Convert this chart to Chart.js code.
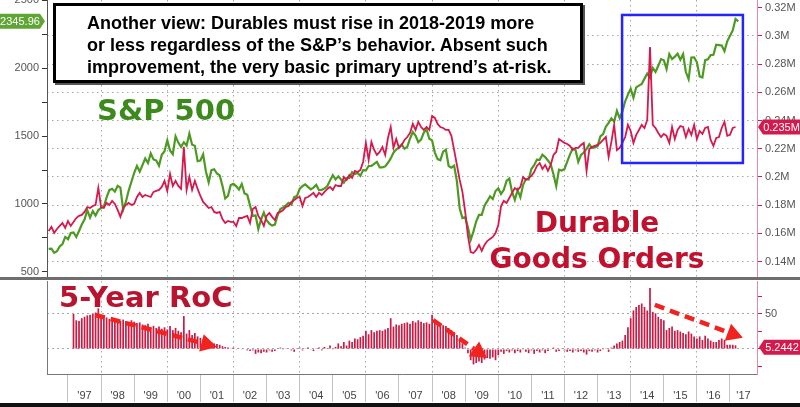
<!DOCTYPE html>
<html lang="en">
<head>
<meta charset="utf-8">
<title>Durable Goods Orders vs S&amp;P 500</title>
<script src="https://cdn.jsdelivr.net/npm/chart.js@4.4.1/dist/chart.umd.min.js"></script>
<style>
  html, body { margin: 0; padding: 0; background: #fff; }
  #wrap { position: relative; width: 800px; height: 407px; overflow: hidden; background: #fff; }
  #topChart { position: absolute; left: 0; top: 0; }
  #botChart { position: absolute; left: 0; top: 279px; }
  .rule { position: absolute; left: 0; width: 800px; }
  #note {
    position: absolute; left: 53px; top: 3px; width: 530px; height: 80px;
    box-sizing: border-box; border: 3px solid #000; background: #fff;
    box-shadow: 2px 2px 0 #555;
    padding: 6px 0 0 31px;
    font: bold 18px "Liberation Sans", Arial, sans-serif; line-height: 22px;
    color: #000; white-space: nowrap;
  }
  .big { position: absolute; font-family: "DejaVu Sans", sans-serif; font-weight: bold; white-space: nowrap; }
  #spLabel { left: 97px; top: 96px; font-size: 29px; line-height: 29px; color: #3c8a1b; }
  #dgLabel { left: 470px; top: 205px; width: 254px; text-align: center; font-size: 28px; line-height: 36px; color: #c0112f; }
  #rocLabel { left: 59px; top: 283px; font-size: 29px; line-height: 29px; color: #b8142f; }
</style>
</head>
<body>
<div id="wrap">
  <canvas id="topChart" width="800" height="277"></canvas>
  <canvas id="botChart" width="800" height="128"></canvas>
  <div class="rule" style="top:277px;height:3px;background:#6e6e6e"></div>
  <div class="rule" style="top:403px;height:4px;background:#111"></div>
  <div id="note">Another view: Durables must rise in 2018-2019 more<br>or less regardless of the S&amp;P’s behavior. Absent such<br>improvement, the very basic primary uptrend’s at-risk.</div>
  <div class="big" id="spLabel">S&amp;P 500</div>
  <div class="big" id="dgLabel">Durable<br>Goods Orders</div>
  <div class="big" id="rocLabel">5-Year RoC</div>
</div>
<script>
// Months are plotted at month end, first point is end of May 1996
const startMonth = 1996 + 5 / 12;

// S&P 500 monthly close, May 1996 .. Feb 2017, then last print in Mar 2017
const sp500 = [
  669.1, 670.6, 639.9, 651.9, 687.3, 705.3, 757.0, 740.7,
  786.2, 790.8, 757.1, 801.3, 848.3, 885.1, 954.3, 899.5, 947.3, 914.6, 955.4, 970.4,
  980.3, 1049.3, 1101.8, 1111.8, 1090.8, 1133.8, 1120.7, 957.3, 1017.0, 1098.7, 1163.6, 1229.2,
  1279.6, 1238.3, 1286.4, 1335.2, 1301.8, 1372.7, 1328.7, 1320.4, 1282.7, 1362.9, 1389.0, 1469.3,
  1394.5, 1366.4, 1498.6, 1452.4, 1420.6, 1454.6, 1430.8, 1517.7, 1436.5, 1429.4, 1315.0, 1320.3,
  1366.0, 1239.9, 1160.3, 1249.5, 1256.0, 1224.4, 1211.2, 1133.6, 1040.9, 1059.8, 1139.5, 1148.1,
  1130.2, 1106.7, 1147.4, 1076.9, 1067.1, 989.8, 911.6, 916.1, 815.3, 885.8, 936.3, 879.8,
  855.7, 841.2, 848.2, 916.9, 963.6, 974.5, 990.3, 1008.0, 996.0, 1050.7, 1058.2, 1111.9,
  1131.1, 1144.9, 1126.2, 1107.3, 1120.7, 1140.8, 1101.7, 1104.2, 1114.6, 1130.2, 1173.8, 1211.9,
  1181.3, 1203.6, 1180.6, 1156.9, 1191.5, 1191.3, 1234.2, 1220.3, 1228.8, 1207.0, 1249.5, 1248.3,
  1280.1, 1280.7, 1294.9, 1310.6, 1270.1, 1270.2, 1276.7, 1303.8, 1335.9, 1377.9, 1400.6, 1418.3,
  1438.2, 1406.8, 1420.9, 1482.4, 1530.6, 1503.4, 1455.3, 1474.0, 1526.8, 1549.4, 1481.1, 1468.4,
  1378.6, 1330.6, 1322.7, 1385.6, 1400.4, 1280.0, 1267.4, 1282.8, 1166.4, 968.8, 896.2, 903.3,
  825.9, 735.1, 797.9, 872.8, 919.1, 919.3, 987.5, 1020.6, 1057.1, 1036.2, 1095.6, 1115.1,
  1073.9, 1104.5, 1169.4, 1186.7, 1089.4, 1030.7, 1101.6, 1049.3, 1141.2, 1183.3, 1180.6, 1257.6,
  1286.1, 1327.2, 1325.8, 1363.6, 1345.2, 1320.6, 1292.3, 1218.9, 1131.4, 1253.3, 1247.0, 1257.6,
  1312.4, 1365.7, 1408.5, 1397.9, 1310.3, 1362.2, 1379.3, 1406.6, 1440.7, 1412.2, 1416.2, 1426.2,
  1498.1, 1514.7, 1569.2, 1597.6, 1630.7, 1606.3, 1685.7, 1633.0, 1681.6, 1756.5, 1805.8, 1848.4,
  1782.6, 1859.5, 1872.3, 1884.0, 1923.6, 1960.2, 1930.7, 2003.4, 1972.3, 2018.1, 2067.6, 2058.9,
  1995.0, 2104.5, 2067.9, 2085.5, 2107.4, 2063.1, 2103.8, 1972.2, 1920.0, 2079.4, 2080.4, 2043.9,
  1940.2, 1932.2, 2059.7, 2065.3, 2097.0, 2098.9, 2173.6, 2171.0, 2168.3, 2126.2, 2198.8, 2238.8,
  2278.9, 2363.6, 2345.96
];

// Durable goods new orders, thousands of $M (axis shows 0.xxM), May 1996 .. Feb 2017
const durables = [
  161.7, 164.6, 160.3, 163.1, 165.3, 167.4, 163.9, 168.8, 165.3, 168.1,
  170.9, 172.4, 173.1, 175.2, 178.7, 178.0, 179.4, 180.2, 192.2, 178.7,
  178.0, 181.6, 180.2, 183.0, 180.9, 176.6, 171.7, 178.0, 180.2, 181.6,
  180.2, 180.9, 185.8, 188.7, 185.8, 187.2, 186.5, 185.8, 189.4, 190.1,
  190.8, 192.9, 197.2, 190.1, 202.1, 193.6, 197.2, 193.6, 191.5, 221.3,
  190.8, 200.0, 190.8, 197.2, 191.5, 186.5, 182.3, 180.2, 178.0, 178.7,
  175.2, 174.5, 175.2, 170.2, 167.4, 168.8, 168.1, 168.1, 165.3, 170.9,
  170.9, 171.7, 172.4, 167.4, 177.3, 178.7, 172.4, 169.5, 165.3, 172.4,
  174.5, 171.7, 169.5, 174.5, 175.2, 176.6, 178.7, 179.4, 182.3, 183.7,
  185.1, 185.8, 179.4, 185.1, 185.8, 187.2, 188.7, 185.8, 188.7, 187.2,
  189.4, 191.5, 192.9, 190.8, 194.3, 193.6, 193.6, 200.0, 197.9, 201.4,
  199.3, 204.3, 203.5, 205.0, 210.6, 224.1, 212.0, 224.8, 219.1, 215.6,
  217.7, 221.3, 215.6, 227.6, 235.4, 220.6, 226.9, 220.6, 222.7, 226.2,
  228.3, 231.2, 237.6, 233.3, 239.0, 235.4, 233.3, 235.4, 233.3, 243.2,
  241.8, 237.6, 235.4, 234.7, 233.3, 233.3, 229.1, 219.0, 208.5, 197.9,
  189.4, 175.2, 158.2, 146.8, 146.1, 148.3, 151.8, 147.6, 151.8, 154.6,
  156.1, 157.5, 160.3, 166.0, 179.4, 183.0, 181.6, 185.1, 188.7, 192.2,
  190.8, 192.9, 200.0, 197.9, 199.3, 200.7, 203.5, 207.8, 209.9, 205.7,
  208.5, 204.3, 208.5, 215.6, 217.7, 226.9, 225.5, 224.1, 223.4, 222.0,
  219.1, 220.6, 220.6, 222.7, 224.1, 204.3, 219.8, 221.3, 222.0, 222.7,
  224.1, 226.2, 228.3, 214.2, 224.8, 236.9, 219.1, 220.6, 224.1, 228.3,
  236.9, 232.6, 224.1, 229.8, 233.3, 236.9, 234.7, 240.4, 292.1, 236.9,
  234.7, 231.2, 228.3, 230.5, 229.1, 224.1, 235.4, 226.9, 233.3, 236.1,
  235.4, 228.3, 234.0, 229.8, 236.9, 226.9, 232.6, 230.5, 234.7, 235.4,
  226.2, 222.0, 227.6, 228.3, 234.7, 239.0, 229.1, 229.8, 234.7, 235.4
];

// 5-year rate of change of durable goods orders (%), Feb 1997 .. Feb 2017
const rocStart = 9;   // month index of the first bar
const roc = [
  50, 41, 40, 44, 46, 48, 49, 50, 52, 58,
  46, 46, 45, 43, 41, 42, 43, 40, 42, 40,
  37, 41, 39, 37, 38, 35, 34, 36, 31, 33,
  30, 32, 29, 31, 28, 33, 27, 30, 26, 24,
  47, 22, 27, 20, 23, 18, 16, 14, 12, 10,
  10, 8, 7, 6, 4, 3, 2, 1,
  2, -1, 1, -1, 0, -2, -3, -2, -7, -5,
  -6, -4, -5, -2, -4, -3, 1, 2, -1, 1,
  0, -2, -4, 1, 2, -2, 1, 2, -1, -3,
  1, 2, -2, 3, 1, 5, -1,
  3, 8, 4, 10, 5, 12, 10, 15, 14, 17,
  19, 26, 21, 27, 24, 26, 27, 26, 28, 30,
  44, 32, 35, 34, 36, 37, 38, 36, 40, 38,
  41, 39, 37, 38, 36, 49,
  40, 37, 36, 34, 33, 30, 27, 24, 20, 14,
  8, 2, -6, -16, -22, -20, -18, -20, -15, -13,
  -14, -12, -16, -9, -4, -7, -3, -5, -2, -6,
  -3, -5, -1, -4, -6, -2, -7, -3, -5, -2,
  -6, -3, -1, 2, -4, -3, 1, -2, -4, -3,
  -5, -2, -4, -3, -5, -8, -3, -4, -2, -5,
  -3, -1, 1, -4, 2, 5, 8, 10, 12, 20,
  31, 44, 55, 60, 63, 65, 60, 55, 87, 53,
  51, 46, 43, 41, 27, 30, 32, 26, 27, 25,
  23, 21, 25, 22, 18, 15, 18, 13, 19, 15,
  12, 10, 10, 13, 15, 13, 6, 6, 6, 5.2442
];

// axis ticks
const yearStarts = [1997, 1998, 1999, 2000, 2001, 2002, 2003, 2004, 2005, 2006, 2007,
                    2008, 2009, 2010, 2011, 2012, 2013, 2014, 2015, 2016, 2017];
const yearLabels = ["'97", "'98", "'99", "'00", "'01", "'02", "'03", "'04", "'05", "'06", "'07",
                    "'08", "'09", "'10", "'11", "'12", "'13", "'14", "'15", "'16", "'17"];
const spTicks = [500, 750, 1000, 1250, 1500, 1750, 2000, 2250, 2500];
const durTicks = [140, 160, 180, 200, 220, 240, 260, 280, 300, 320];
const rocTicks = [-25, 0, 25, 50, 75];

// annotations: [year, value] pairs
const trendArrows = [
  [1997.82, 48.6, 2001.50, 2.9],
  [2008.03, 41.4, 2009.66, -12.9],
  [2014.73, 62.9, 2017.39, 16]
];
const focusBox = { from: 2013.74, to: 2017.39, top: 314.8, bottom: 209.9 };

// ranges
const xMin = 1996.366, xMax = 2017.816;
const GREEN = '#4d9a23';
const RED = '#d6184c';
const BAR = '#c81b45';
const GRID = '#a6a6a6';
const tickFont = { family: '"Liberation Sans Narrow", "Liberation Sans", Arial, sans-serif', size: 11 };

const spPts = sp500.map((v, i) => ({ x: startMonth + i / 12, y: v }));
const durPts = durables.map((v, i) => ({ x: startMonth + i / 12, y: v }));
const rocPts = roc.map((v, i) => ({ x: startMonth + (rocStart + i) / 12, y: v }));

const labelPos = yearStarts.map((y, i) => i < yearStarts.length - 1 ? y + 0.5 : (y + xMax) / 2);
const bottomTicks = yearStarts.concat(labelPos).sort((a, b) => a - b);

// keep the plot area fixed: no extra room for labels hanging over the ends
function noPad(s) {
  s.paddingTop = 0;
  s.paddingBottom = 0;
  s.paddingLeft = 0;
  s.paddingRight = 0;
}

// Draw price tag badge next to an axis
function badge(ctx, left, right, yc, pointLeft, fill, text) {
  const h = 15, tip = 5;
  ctx.save();
  ctx.fillStyle = fill;
  ctx.beginPath();
  if (pointLeft) {
    ctx.moveTo(left, yc);
    ctx.lineTo(left + tip, yc - h / 2);
    ctx.lineTo(right, yc - h / 2);
    ctx.lineTo(right, yc + h / 2);
    ctx.lineTo(left + tip, yc + h / 2);
  } else {
    ctx.moveTo(right, yc);
    ctx.lineTo(right - tip, yc - h / 2);
    ctx.lineTo(left, yc - h / 2);
    ctx.lineTo(left, yc + h / 2);
    ctx.lineTo(right - tip, yc + h / 2);
  }
  ctx.closePath();
  ctx.fill();
  ctx.fillStyle = '#fff';
  ctx.font = '11px "Liberation Sans Narrow", "Liberation Sans", Arial, sans-serif';
  ctx.textAlign = 'center';
  ctx.textBaseline = 'middle';
  ctx.fillText(text, (left + right) / 2 + (pointLeft ? tip / 2 : -tip / 2), yc + 0.5);
  ctx.restore();
}

// Red dashed arrow
function dashedArrow(ctx, x0, y0, x1, y1) {
  const ang = Math.atan2(y1 - y0, x1 - x0), head = 16, half = 9;
  const bx = x1 - head * Math.cos(ang), by = y1 - head * Math.sin(ang);
  ctx.save();
  ctx.strokeStyle = '#f2231f';
  ctx.fillStyle = '#f2231f';
  ctx.lineWidth = 4.5;
  ctx.setLineDash([10, 6]);
  ctx.beginPath();
  ctx.moveTo(x0, y0);
  ctx.lineTo(bx, by);
  ctx.stroke();
  ctx.setLineDash([]);
  ctx.beginPath();
  ctx.moveTo(x1, y1);
  ctx.lineTo(bx + half * Math.sin(ang), by - half * Math.cos(ang));
  ctx.lineTo(bx - half * Math.sin(ang), by + half * Math.cos(ang));
  ctx.closePath();
  ctx.fill();
  ctx.restore();
}

const topMarks = {
  id: 'topMarks',
  afterDraw(chart) {
    const ctx = chart.ctx, x = chart.scales.x, yL = chart.scales.yL, yR = chart.scales.yR;
    // blue highlight box
    ctx.save();
    ctx.strokeStyle = '#2424ff';
    ctx.lineWidth = 2.5;
    const bx0 = x.getPixelForValue(focusBox.from), bx1 = x.getPixelForValue(focusBox.to);
    const by0 = yR.getPixelForValue(focusBox.top), by1 = yR.getPixelForValue(focusBox.bottom);
    ctx.strokeRect(bx0, by0, bx1 - bx0, by1 - by0);
    ctx.restore();
    // last value tags
    const lastSp = sp500[sp500.length - 1];
    badge(ctx, 0, 45, yL.getPixelForValue(lastSp), false, '#5fa533', lastSp.toFixed(2));
    const lastDur = durables[durables.length - 1];
    badge(ctx, 758, 800, yR.getPixelForValue(lastDur), true, '#d41a4c', (lastDur / 1000).toFixed(3) + 'M');
  }
};

const botMarks = {
  id: 'botMarks',
  afterDraw(chart) {
    const ctx = chart.ctx, x = chart.scales.x, y = chart.scales.yR;
    trendArrows.forEach(a => {
      dashedArrow(ctx, x.getPixelForValue(a[0]), y.getPixelForValue(a[1]),
                  x.getPixelForValue(a[2]), y.getPixelForValue(a[3]));
    });
    const lastRoc = roc[roc.length - 1];
    badge(ctx, 759, 800, y.getPixelForValue(lastRoc) + 2, true, '#d41a4c', lastRoc.toFixed(4));
  }
};

// Top panel: S&P 500 and durable goods orders
new Chart(document.getElementById('topChart'), {
  type: 'line',
  data: {
    datasets: [
      { label: 'Durable Goods Orders', data: durPts, yAxisID: 'yR', borderColor: RED, borderWidth: 1.8,
        pointRadius: 0, tension: 0 },
      { label: 'S&P 500', data: spPts, yAxisID: 'yL', borderColor: GREEN, borderWidth: 2.2,
        pointRadius: 0, tension: 0 }
    ]
  },
  options: {
    responsive: false,
    animation: false,
    events: [],
    layout: { padding: 0 },
    plugins: { legend: { display: false }, tooltip: { enabled: false } },
    scales: {
      x: {
        type: 'linear', min: xMin, max: xMax,
        afterBuildTicks: s => { s.ticks = yearStarts.map(v => ({ value: v })); },
        afterFit: s => { s.height = 0; noPad(s); },
        ticks: { display: false },
        grid: { color: c => (c.tick && c.tick.value % 2 === 0) ? GRID : 'transparent', drawTicks: false },
        border: { display: false, dash: [1.5, 3.5] }
      },
      yL: {
        type: 'linear', position: 'left', min: 462, max: 2503,
        afterBuildTicks: s => { s.ticks = spTicks.map(v => ({ value: v })); },
        afterFit: s => { s.width = 47; noPad(s); },
        ticks: { color: '#555', font: tickFont, padding: 3, callback: v => v % 500 === 0 ? String(v) : '' },
        grid: { drawOnChartArea: false, tickLength: 5, tickColor: '#333' },
        border: { color: '#555' }
      },
      yR: {
        type: 'linear', position: 'right', min: 129.1, max: 325.4,
        afterBuildTicks: s => { s.ticks = durTicks.map(v => ({ value: v })); },
        afterFit: s => { s.width = 43; noPad(s); },
        ticks: { color: '#555', font: tickFont, padding: 3, callback: v => (v / 1000) + 'M' },
        grid: { color: c => (c.tick && c.tick.value === 320) ? 'transparent' : GRID,
                tickLength: 5, tickColor: RED },
        border: { color: '#e58aa4', dash: [1.5, 3.5] }
      }
    }
  },
  plugins: [topMarks]
});

// Bottom panel: 5-year rate of change
new Chart(document.getElementById('botChart'), {
  type: 'bar',
  data: {
    datasets: [
      { label: '5-Year RoC', data: rocPts, yAxisID: 'yR', backgroundColor: BAR,
        barPercentage: 0.62, categoryPercentage: 1 }
    ]
  },
  options: {
    responsive: false,
    animation: false,
    events: [],
    layout: { padding: { top: 2 } },
    plugins: { legend: { display: false }, tooltip: { enabled: false } },
    scales: {
      x: {
        type: 'linear', min: xMin, max: xMax, position: 'bottom', offset: false,
        afterBuildTicks: s => { s.ticks = bottomTicks.map(v => ({ value: v })); },
        afterFit: s => { s.height = 33; noPad(s); },
        ticks: {
          color: '#444', font: tickFont, autoSkip: false, maxRotation: 0, padding: -13,
          callback: v => { const k = labelPos.indexOf(v); return k >= 0 ? yearLabels[k] : ''; }
        },
        grid: {
          offset: false,
          color: c => (c.tick && yearStarts.includes(c.tick.value) && c.tick.value % 2 === 0) ? GRID : 'transparent',
          tickColor: c => (c.tick && yearStarts.includes(c.tick.value)) ? '#c4c4c4' : 'transparent',
          tickLength: 28
        },
        border: { color: '#777', dash: [1.5, 3.5] }
      },
      yLeft: {
        type: 'linear', position: 'left', min: 0, max: 1,
        afterFit: s => { s.width = 47; noPad(s); },
        ticks: { display: false },
        grid: { display: false },
        border: { display: true, color: '#777' }
      },
      yR: {
        type: 'linear', position: 'right', min: -35.7, max: 97.1,
        afterBuildTicks: s => { s.ticks = rocTicks.map(v => ({ value: v })); },
        afterFit: s => { s.width = 43; noPad(s); },
        ticks: { color: '#555', font: tickFont, padding: 3, callback: v => v === 50 ? '50' : '' },
        grid: { color: c => (c.tick && (c.tick.value === 0 || c.tick.value === 50)) ? GRID : 'transparent',
                tickLength: 5, tickColor: RED },
        border: { color: '#e58aa4', dash: [2, 3] }
      }
    }
  },
  plugins: [botMarks]
});
</script>
</body>
</html>
